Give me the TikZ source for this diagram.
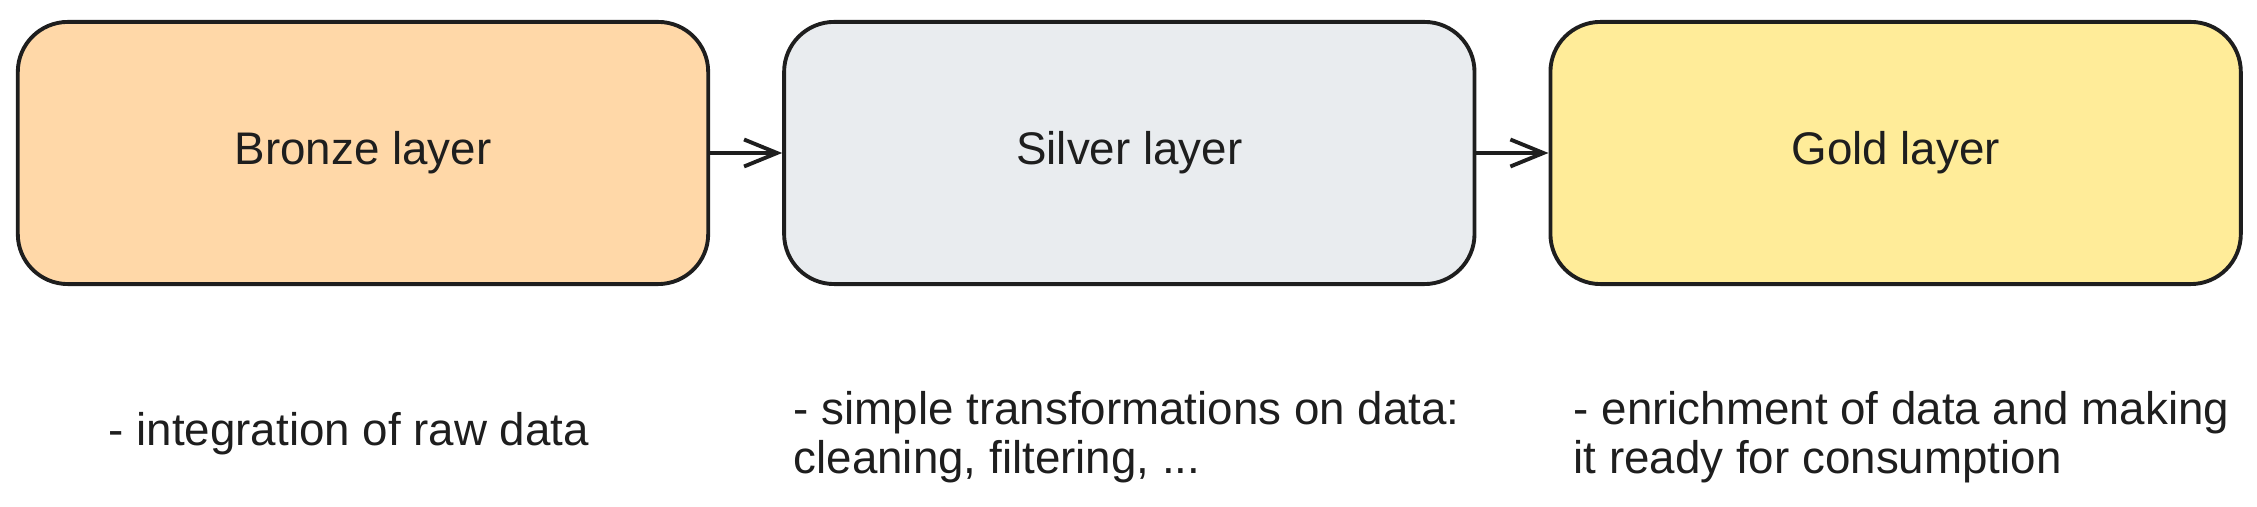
\documentclass[tikz,border=0pt]{standalone}
\usepackage{fontspec}
\setmainfont{Liberation Sans}
\usetikzlibrary{positioning, arrows.meta}

\definecolor{ink}{HTML}{1E1E1E}
\definecolor{bronzefill}{HTML}{FFD8A8}
\definecolor{silverfill}{HTML}{E9ECEF}
\definecolor{goldfill}{HTML}{FFEC99}

\begin{document}
\begin{tikzpicture}[
			x=0.01cm, y=-0.01cm,
			node distance=0.72cm,
			layer/.style={rectangle, draw=ink, line width=1.1pt, rounded corners=0.5cm,
				minimum width=6.9cm, minimum height=2.62cm, text=ink, font=\fontsize{13}{16}\selectfont},
			note/.style={anchor=west, align=left, inner sep=0pt, text=ink, font=\fontsize{13}{13.8}\selectfont},
			arrow/.style={-{Straight Barb[length=0.33cm, width=0.27cm, line width=1.1pt]}, line width=1.1pt, draw=ink}
			]
			\useasboundingbox (0,0) rectangle (2257,507);
			
			% Layers
			\node[layer, fill=bronzefill] (bronze) at (363,153) {Bronze layer};
			\node[layer, fill=silverfill, right=of bronze] (silver) {Silver layer};
			\node[layer, fill=goldfill, right=of silver] (gold) {Gold layer};
			
			% Connections
			\draw[arrow] (bronze) -- (silver);
			\draw[arrow] (silver) -- (gold);
			
			% Notes
			\node[note] (bronze_note) at (108,434) {- integration of raw data};
			\node[note] (silver_note) at (793,437) {- simple transformations on data:\\cleaning, filtering, ...};
			\node[note] (gold_note) at (1573,437) {- enrichment of data and making\\it ready for consumption};
			
		\end{tikzpicture}
\end{document}
